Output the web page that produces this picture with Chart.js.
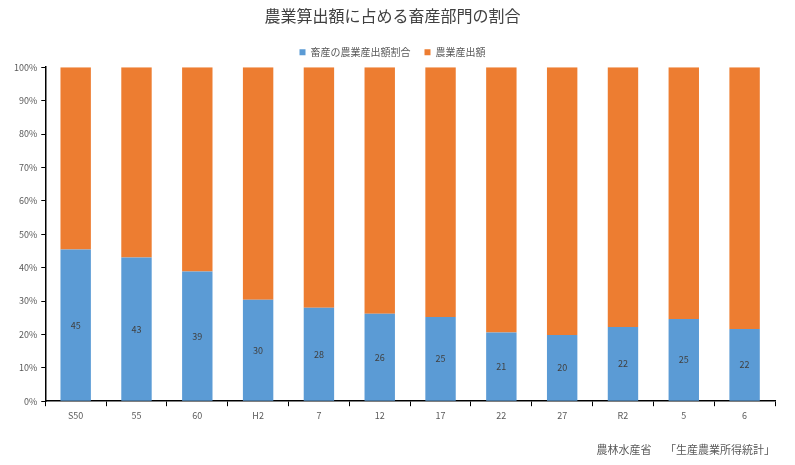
<!DOCTYPE html>
<html>
<head>
<meta charset="utf-8">
<script src="https://cdn.jsdelivr.net/npm/chart.js@4"></script>
<style>
  html, body { margin: 0; padding: 0; background: #fff; }
</style>
</head>
<body>
<canvas id="myChart" width="795" height="465"></canvas>
<script>
// 年次（昭和・平成・令和）
const years = ['S50', '55', '60', 'H2', '7', '12', '17', '22', '27', 'R2', '5', '6'];
// 畜産の農業産出額割合 (%)
const livestockShare = [45.4, 43.0, 38.8, 30.4, 28.0, 26.2, 25.2, 20.6, 19.8, 22.2, 24.6, 21.6];
// 残り（農業産出額）(%)
const otherShare = [54.6, 57.0, 61.2, 69.6, 72.0, 73.8, 74.8, 79.4, 80.2, 77.8, 75.4, 78.4];
const yTicks = [0, 10, 20, 30, 40, 50, 60, 70, 80, 90, 100];

const FONT = '"Noto Sans CJK JP", "Noto Sans", sans-serif';

// bar labels in the middle of the blue part
const barLabels = {
    id: 'barLabels',
    afterDatasetsDraw(chart) {
        const ctx = chart.ctx;
        const meta = chart.getDatasetMeta(0);
        ctx.save();
        ctx.font = '9px ' + FONT;
        ctx.fillStyle = '#404040';
        ctx.textAlign = 'center';
        ctx.textBaseline = 'middle';
        meta.data.forEach((bar, i) => {
            const y = (bar.y + bar.base) / 2;
            ctx.fillText(Math.round(livestockShare[i]), bar.x, y);
        });
        ctx.restore();
    }
};

// source note
const sourceNote = {
    id: 'sourceNote',
    afterDraw(chart) {
        const ctx = chart.ctx;
        ctx.save();
        ctx.font = '11px ' + FONT;
        ctx.fillStyle = '#595959';
        ctx.textAlign = 'right';
        ctx.textBaseline = 'middle';
        ctx.fillText('農林水産省　 「生産農業所得統計」', 775, 450);
        ctx.restore();
    }
};

new Chart(document.getElementById('myChart').getContext('2d'), {
    type: 'bar',
    data: {
        labels: years,
        datasets: [
            {
                label: '畜産の農業産出額割合',
                data: livestockShare,
                backgroundColor: '#5b9bd5',
                categoryPercentage: 1.0,
                barPercentage: 0.5
            },
            {
                label: '農業産出額',
                data: otherShare,
                backgroundColor: '#ed7d31',
                categoryPercentage: 1.0,
                barPercentage: 0.5
            }
        ]
    },
    options: {
        responsive: false,
        animation: false,
        devicePixelRatio: 1,
        layout: { padding: { left: 10, right: 20, top: 2, bottom: 40 } },
        plugins: {
            title: {
                display: true,
                text: '農業算出額に占める畜産部門の割合',
                color: '#404040',
                font: { family: FONT, size: 16, weight: 'normal' },
                padding: { top: 4, bottom: 8 }
            },
            legend: {
                display: true,
                labels: {
                    color: '#595959',
                    font: { family: FONT, size: 10 },
                    boxWidth: 6,
                    boxHeight: 6,
                    padding: 14
                }
            },
            tooltip: { enabled: false }
        },
        scales: {
            x: {
                stacked: true,
                grid: {
                    offset: true,
                    drawOnChartArea: false,
                    color: '#000',
                    tickLength: 5
                },
                border: { color: '#000', width: 1.5 },
                ticks: {
                    color: '#595959',
                    font: { family: FONT, size: 9 },
                    padding: 4
                }
            },
            y: {
                stacked: true,
                min: 0,
                max: 100,
                afterBuildTicks(axis) {
                    axis.ticks = yTicks.map(v => ({ value: v }));
                },
                grid: {
                    drawOnChartArea: false,
                    color: '#000',
                    tickLength: 4
                },
                border: { color: '#000', width: 1.5 },
                ticks: {
                    color: '#595959',
                    font: { family: FONT, size: 9 },
                    padding: 4,
                    callback: v => v + '%'
                }
            }
        }
    },
    plugins: [barLabels, sourceNote]
});
</script>
</body>
</html>
